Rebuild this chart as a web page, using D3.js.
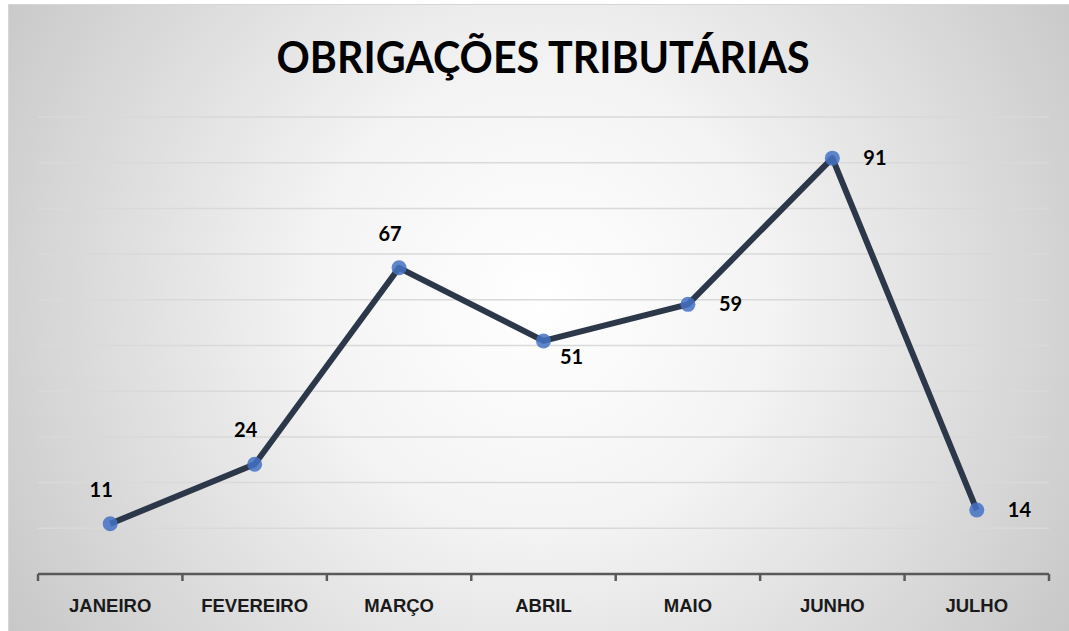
<!DOCTYPE html>
<html>
<head>
<meta charset="utf-8">
<script src="https://cdn.jsdelivr.net/npm/d3@7"></script>
<style>
  body { margin: 0; background: #fff; }
  svg { display: block; font-family: Lato, "Open Sans", sans-serif; }
</style>
</head>
<body>
<div id="chart"></div>
<script>
const meses = ['JANEIRO', 'FEVEREIRO', 'MARÇO', 'ABRIL', 'MAIO', 'JUNHO', 'JULHO']
const valores = [11, 24, 67, 51, 59, 91, 14]
const posRotulo = ['above', 'above', 'above', 'belowright', 'right', 'right', 'right']
const gradeY = [10, 20, 30, 40, 50, 60, 70, 80, 90, 100]

const W = 1069, H = 631

svg = d3.select('#chart').append('svg').attr('width', W).attr('height', H)

defs = svg.append('defs')
grad = defs.append('radialGradient')
    .attr('id', 'fundo')
    .attr('gradientUnits', 'userSpaceOnUse')
    .attr('cx', 540).attr('cy', 300).attr('r', 640)
grad.append('stop').attr('offset', '0%').attr('stop-color', '#ffffff')
grad.append('stop').attr('offset', '35%').attr('stop-color', '#f4f4f4')
grad.append('stop').attr('offset', '100%').attr('stop-color', '#c6c6c6')

svg.append('rect')
    .attr('x', 8.5).attr('y', 4.5)
    .attr('width', W - 8).attr('height', H - 4)
    .attr('fill', 'url(#fundo)')
    .attr('stroke', '#d6d6d6')

x = d3.scaleBand().domain(meses).range([38, 1049]).padding(0)
y = d3.scaleLinear().domain([0, 100]).range([574, 117])

// linhas de grade
svg.append('g').selectAll('line').data(gradeY).join('line')
    .attr('x1', 38).attr('x2', 1049)
    .attr('y1', d => y(d)).attr('y2', d => y(d))
    .attr('stroke', '#d9d9d9')
    .attr('stroke-width', 1.5)

// eixo x
eixo = svg.append('g')
    .attr('transform', `translate(0,${y(0)})`)
    .call(d3.axisBottom(x).tickSize(0).tickPadding(0))
eixo.select('.domain').remove()
eixo.selectAll('text').remove()

eixo.append('line')
    .attr('x1', 38).attr('x2', 1049)
    .attr('stroke', '#595959').attr('stroke-width', 2.5)

const bordas = meses.map(m => x(m)).concat([x(meses[meses.length - 1]) + x.bandwidth()])
eixo.selectAll('.tickb').data(bordas).join('line')
    .attr('class', 'tickb')
    .attr('x1', d => d).attr('x2', d => d)
    .attr('y1', 0).attr('y2', 7)
    .attr('stroke', '#595959').attr('stroke-width', 2.5)

eixo.selectAll('.cat').data(meses).join('text')
    .attr('class', 'cat')
    .attr('x', d => x(d) + x.bandwidth() / 2)
    .attr('y', 38)
    .attr('text-anchor', 'middle')
    .attr('font-size', '18.5px')
    .attr('font-weight', 'bold')
    .attr('fill', '#1a1a1a')
    .text(d => d)

// título
svg.append('text')
    .attr('x', 543).attr('y', 73)
    .attr('text-anchor', 'middle')
    .attr('font-size', '44px')
    .attr('font-weight', 'bold')
    .attr('fill', '#000')
    .attr('textLength', 533)
    .attr('lengthAdjust', 'spacingAndGlyphs')
    .text('OBRIGAÇÕES TRIBUTÁRIAS')

const pontos = meses.map((m, i) => ({ mes: m, v: valores[i], pos: posRotulo[i] }))
const cx = d => x(d.mes) + x.bandwidth() / 2

linha = d3.line().x(cx).y(d => y(d.v))

svg.append('path')
    .datum(pontos)
    .attr('d', linha)
    .attr('fill', 'none')
    .attr('stroke', '#2c3849')
    .attr('stroke-width', 6)
    .attr('stroke-linejoin', 'round')

svg.append('g').selectAll('circle').data(pontos).join('circle')
    .attr('cx', cx)
    .attr('cy', d => y(d.v))
    .attr('r', 7.5)
    .attr('fill', '#4472c4')
    .attr('fill-opacity', 0.85)

svg.append('g').selectAll('text').data(pontos).join('text')
    .attr('x', d => d.pos == 'above' ? cx(d) - 9 : d.pos == 'belowright' ? cx(d) + 28 : cx(d) + 31)
    .attr('y', d => d.pos == 'above' ? y(d.v) - 27 : d.pos == 'belowright' ? y(d.v) + 23 : y(d.v) + 7)
    .attr('text-anchor', d => d.pos == 'right' ? 'start' : 'middle')
    .attr('font-size', '20px')
    .attr('font-weight', 'bold')
    .attr('fill', '#000')
    .text(d => d.v)
</script>
</body>
</html>
